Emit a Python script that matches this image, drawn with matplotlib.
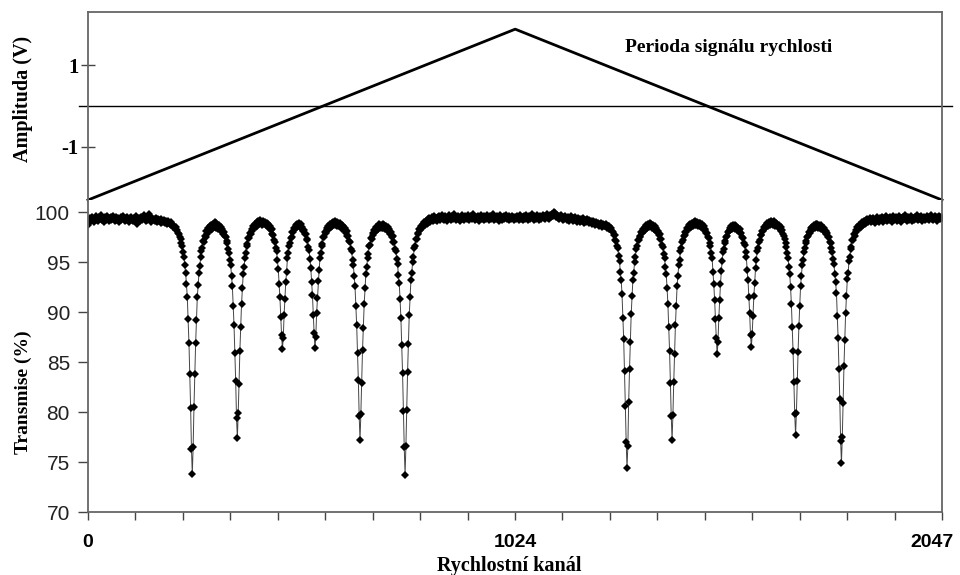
import numpy as np
import matplotlib.pyplot as plt
import matplotlib.transforms as mtrans

plt.rcParams['font.family'] = ['Liberation Sans', 'DejaVu Sans']
serif = ['Liberation Serif', 'DejaVu Serif']

# velocity signal (one period) - channel, amplitude in V
vel_ch = [0, 1024, 2047]
vel_amp = [-2.3, 1.88, -2.3]

# transmission (%) measured every 2nd channel, split in blocks of 256 channels
trans_0 = [98.7, 99.2, 99.4, 99.1, 99.3, 99.5, 99.2, 99.0, 99.4, 99.3,
           99.6, 99.2, 99.1, 99.5, 99.3, 99.4, 99.7, 99.2, 99.3, 99.0,
           99.5, 99.4, 99.2, 99.6, 99.3, 99.1, 99.4, 99.5, 99.2, 99.3,
           99.6, 99.4, 99.1, 99.3, 99.5, 99.2, 99.4, 99.0, 99.3, 99.5,
           99.2, 99.4, 99.6, 99.3, 99.1, 99.4, 99.2, 99.5, 99.3, 99.0,
           99.4, 99.2, 99.5, 99.3, 99.1, 99.4, 99.2, 99.6, 99.3, 98.8,
           99.2, 99.4, 99.1, 99.5, 99.3, 99.2, 99.4, 99.7, 99.3, 99.1,
           99.4, 99.2, 99.5, 99.8, 99.3,
           99.3, 99.0, 99.4, 99.2, 99.3, 99.1, 99.4, 99.2, 99.0, 99.3,
           99.1, 99.2, 98.9, 99.3, 99.1, 99.0, 99.2, 98.9, 99.1, 99.0,
           98.8, 99.1, 98.9, 98.8, 99.0, 98.7, 98.8, 98.5, 98.6, 98.4,
           98.5, 98.2, 98.2, 97.9, 97.8, 97.5, 97.3, 96.9, 96.6, 96.0,
           95.5, 94.7, 93.9, 92.8, 91.5, 89.3, 86.9, 83.8, 80.4, 76.3,
           73.8, 76.5, 80.5]
trans_1 = [83.8, 86.9, 89.2, 91.5, 92.7, 93.9, 94.6, 95.5, 96.1, 96.4,
           97.1, 97.0, 97.6, 97.5, 98.1, 97.8, 98.4, 98.1, 98.6, 98.2,
           98.7, 98.3, 98.8, 98.5, 99.0, 98.4, 98.9, 98.6, 98.3, 98.7,
           98.2, 98.5, 98.1, 98.3, 97.8, 98.0, 97.6, 97.5, 97.1, 96.9,
           96.3, 95.9, 95.2, 94.7, 93.6, 92.6, 90.6, 88.7, 85.9, 83.1,
           79.4, 77.4, 79.9, 82.8, 86.1, 88.5, 90.8, 92.4, 93.8, 94.5,
           95.4, 95.9, 96.6, 96.8, 97.4, 97.4, 97.9, 97.8, 98.3, 98.1,
           98.6, 98.4, 98.8, 98.5, 99.0, 98.6, 99.1, 98.8, 99.2, 98.9,
           99.0, 98.7, 99.1, 98.8, 99.0, 98.7, 98.9, 98.6, 98.8, 98.4,
           98.6, 98.2, 98.3, 97.8, 97.7, 97.2, 97.0, 96.4, 96.1, 95.2,
           94.3, 92.8, 91.5, 89.5, 87.7, 86.3, 87.4, 89.7, 91.3, 93.0,
           94.0, 95.4, 95.9, 96.6, 96.9, 97.4, 97.5, 98.0, 98.0, 98.4,
           98.3, 98.7, 98.5, 98.8, 98.6, 98.9, 98.5, 98.8]
trans_2 = [98.3, 98.5, 98.1, 98.2, 97.8, 97.8, 97.3, 97.2, 96.5, 96.2,
           95.3, 94.4, 93.0, 91.7, 89.7, 87.9, 86.4, 87.5, 89.9, 91.4,
           93.1, 94.2, 95.4, 95.9, 96.6, 96.8, 97.5, 97.5, 98.0, 97.9,
           98.4, 98.2, 98.6, 98.3, 98.8, 98.5, 98.9, 98.6, 99.0, 98.7,
           99.1, 98.7, 99.0, 98.6, 98.9, 98.6, 98.9, 98.5, 98.7, 98.3,
           98.6, 98.2, 98.4, 97.9, 98.1, 97.6, 97.6, 97.1, 97.0, 96.3,
           96.1, 95.2, 94.7, 93.6, 92.6, 90.6, 88.7, 85.9, 83.2, 79.6,
           77.2, 79.8, 82.9, 86.2, 88.4, 90.8, 92.4, 93.8, 94.5, 95.4,
           95.8, 96.6, 96.7, 97.4, 97.3, 97.9, 97.7, 98.2, 98.0, 98.5,
           98.2, 98.6, 98.3, 98.8, 98.4, 98.7, 98.4, 98.8, 98.4, 98.7,
           98.3, 98.6, 98.2, 98.5, 98.1, 98.3, 97.8, 98.0, 97.5, 97.6,
           97.0, 97.0, 96.3, 96.1, 95.3, 94.8, 93.7, 92.9, 91.3, 89.4,
           86.7, 83.9, 80.1, 76.5, 73.7, 76.6, 80.2, 84.0]
trans_3 = [86.8, 89.7, 91.5, 93.2, 93.9, 95.0, 95.5, 96.4, 96.6, 97.3,
           97.3, 97.9, 97.8, 98.3, 98.2, 98.6, 98.4, 98.8, 98.6, 99.0,
           98.7, 99.1, 98.8, 99.3, 98.9, 99.4, 99.0, 99.3, 99.5, 99.1,
           99.4, 99.6, 99.2, 99.4, 99.1, 99.5, 99.3, 99.6, 99.2, 99.4,
           99.7, 99.3, 99.5, 99.2, 99.6, 99.4, 99.1, 99.5, 99.3, 99.7,
           99.4, 99.2, 99.6, 99.3, 99.5, 99.8, 99.4, 99.2, 99.5, 99.3,
           99.6, 99.4, 99.1, 99.5, 99.7, 99.3, 99.5, 99.2, 99.6, 99.4,
           99.3, 99.7, 99.5, 99.2, 99.4, 99.6, 99.3, 99.5, 99.8, 99.4,
           99.2, 99.5, 99.3, 99.6, 99.4, 99.1, 99.5, 99.7, 99.3, 99.5,
           99.2, 99.6, 99.4, 99.3, 99.7, 99.5, 99.2, 99.4, 99.6, 99.3,
           99.5, 99.8, 99.4, 99.2, 99.5, 99.3, 99.6, 99.4, 99.1, 99.5,
           99.7, 99.4, 99.2, 99.5, 99.3, 99.6, 99.4, 99.7, 99.3, 99.5,
           99.2, 99.6, 99.4, 99.3, 99.6, 99.5, 99.2, 99.4]
trans_4 = [99.5, 99.3, 99.6, 99.4, 99.2, 99.5, 99.7, 99.3, 99.5, 99.2,
           99.6, 99.4, 99.3, 99.7, 99.5, 99.2, 99.4, 99.6, 99.3, 99.5,
           99.8, 99.4, 99.2, 99.6, 99.4, 99.3, 99.7, 99.5, 99.2, 99.4,
           99.6, 99.3, 99.5, 99.7, 99.4, 99.6, 99.3, 99.5, 99.8, 99.4,
           99.6, 99.3, 99.7, 99.5, 99.8, 99.6, 100.0, 99.7, 99.9, 99.5,
           99.7, 99.4, 99.6, 99.3, 99.5, 99.7, 99.4, 99.2, 99.5, 99.3,
           99.6, 99.4, 99.2, 99.5, 99.3, 99.1, 99.4, 99.6, 99.3, 99.1,
           99.4, 99.2, 99.5, 99.3, 99.0, 99.4, 99.2, 99.3, 99.0, 99.3,
           99.1, 99.4, 99.2, 98.9, 99.2, 99.0, 99.3, 99.1, 98.9, 99.2,
           99.0, 99.1, 98.8, 99.1, 98.9, 99.0, 98.7, 99.0,
           98.8, 98.9, 98.6, 98.8, 98.7, 98.9, 98.5, 98.8, 98.6, 98.7,
           98.6, 98.8, 98.4, 98.6, 98.3, 98.6, 98.3, 98.4, 98.1, 98.0,
           97.7, 97.7, 97.2, 97.1, 96.6, 96.4, 95.6, 95.1, 94.0, 93.2]
trans_5 = [91.8, 89.4, 87.3, 84.1, 80.6, 77.0, 74.4, 76.6, 81.0, 84.3,
           87.0, 89.8, 91.6, 93.2, 93.9, 95.0, 95.5, 96.3, 96.6, 97.2,
           97.2, 97.6, 97.5, 98.0, 97.9, 98.3, 98.1, 98.5, 98.2, 98.7,
           98.4, 98.8, 98.5, 98.9, 98.6, 98.8, 98.4, 98.7, 98.3, 98.6,
           98.2, 98.4, 98.0, 98.1, 97.7, 97.8, 97.3, 97.3, 96.7, 96.5,
           95.8, 95.4, 94.5, 93.8, 92.4, 90.8, 88.5, 86.1, 82.9, 79.6,
           77.2, 79.7, 83.0, 85.8, 88.7, 90.6, 92.6, 93.6, 94.7, 95.2,
           96.1, 96.4, 97.0, 97.2, 97.6, 97.7, 98.0, 98.0, 98.4, 98.3,
           98.7, 98.4, 98.8, 98.5, 98.9, 98.6, 99.0, 98.7, 99.1, 98.7,
           99.0, 98.6, 98.9, 98.6, 98.9, 98.5, 98.8, 98.3, 98.6, 98.2,
           98.3, 97.9, 97.9, 97.5, 97.4, 96.9, 96.6, 95.9, 95.4, 94.0,
           92.8, 91.2, 89.3, 87.4, 85.8, 87.0, 89.4, 91.2, 92.8, 94.1,
           95.1, 96.0, 96.3, 96.9, 97.1, 97.5, 97.6, 98.0]
trans_6 = [98.1, 98.4, 98.2, 98.6, 98.3, 98.7, 98.4, 98.7, 98.3, 98.6,
           98.2, 98.4, 98.2, 98.3, 97.9, 97.9, 97.5, 97.4, 96.9, 96.7,
           96.0, 95.5, 94.2, 93.2, 91.5, 89.9, 87.7, 86.5, 87.8, 89.6,
           91.6, 92.9, 94.4, 95.2, 96.1, 96.4, 97.0, 97.2, 97.7, 97.7,
           98.1, 98.1, 98.5, 98.4, 98.7, 98.5, 98.9, 98.6, 99.0, 98.7,
           99.1, 98.8, 99.0, 98.7, 99.1, 98.6, 98.9, 98.7, 98.8, 98.5,
           98.7, 98.3, 98.5, 98.1, 98.2, 97.8, 97.6, 97.3, 96.9, 96.5,
           95.9, 95.4, 94.5, 93.8, 92.5, 90.8, 88.5, 86.1, 83.0, 79.8,
           77.7, 79.9, 83.1, 86.0, 88.6, 90.6, 92.6, 93.6, 94.7, 95.2,
           96.0, 96.4, 96.9, 97.1, 97.5, 97.6, 98.0, 97.9, 98.4, 98.2,
           98.5, 98.3, 98.7, 98.4, 98.8, 98.5, 98.8, 98.4, 98.7, 98.4,
           98.7, 98.3, 98.5, 98.2, 98.4, 98.0, 98.1, 97.8, 97.9, 97.5,
           97.5, 97.0, 96.9, 96.4, 96.0, 95.3, 94.8, 93.8]
trans_7 = [93.0, 91.9, 89.6, 87.4, 84.3, 81.3, 77.1, 74.9, 77.5, 80.9,
           84.6, 87.2, 89.9, 91.6, 93.3, 93.9, 95.1, 95.5, 96.3, 96.5,
           97.2, 97.2, 97.8, 97.6, 98.2, 98.0, 98.5, 98.3, 98.7, 98.4,
           98.8, 98.5, 99.0, 98.7, 99.1, 98.8, 99.2, 98.9, 99.3, 99.0,
           99.2, 99.4, 99.0, 99.3, 99.1, 99.4, 99.2, 98.9, 99.3, 99.5,
           99.1, 99.3, 99.0, 99.4, 99.2, 99.5, 99.3, 99.0, 99.4, 99.2,
           99.6, 99.3, 99.1, 99.4, 99.2, 99.5, 99.3, 99.0, 99.4, 99.6,
           99.2, 99.3, 99.5, 99.1, 99.4, 99.2, 99.6, 99.3, 99.0, 99.4,
           99.2, 99.5, 99.3, 99.7, 99.4, 99.1, 99.3, 99.5, 99.2, 99.4,
           99.6, 99.3, 99.1, 99.4, 99.2, 99.5, 99.3, 99.7, 99.4, 99.2,
           99.5, 99.3, 99.6, 99.4, 99.1, 99.3, 99.5, 99.2, 99.4, 99.6,
           99.3, 99.5, 99.2, 99.4, 99.7, 99.3, 99.5, 99.2, 99.4, 99.6,
           99.3, 99.5, 99.1, 99.4, 99.6, 99.3, 99.5, 99.4]

trans = np.concatenate([trans_0, trans_1, trans_2, trans_3,
                        trans_4, trans_5, trans_6, trans_7])
chan = np.arange(len(trans)) * 2

xticks = [i * 2047 / 18 for i in range(19)]
xlabels = ['' for _ in xticks]
xlabels[0], xlabels[9], xlabels[18] = '0', '1024', '2047'

fig = plt.figure(figsize=(9.6, 5.75), dpi=100)
ax1 = fig.add_axes([88/960, 1 - 200/575, 854/960, 188/575])
ax2 = fig.add_axes([88/960, 1 - 512/575, 854/960, 312/575])

# top: velocity signal
ax1.plot(vel_ch, vel_amp, color='black', lw=2, clip_on=False)
ax1.axhline(0, xmin=-0.01, xmax=1.012, color='black', lw=1, clip_on=False)
ax1.set_xlim(0, 2047)
ax1.set_ylim(-2.3, 2.3)
ax1.set_xticks([])
ax1.set_yticks([-1, 1])
ax1.set_yticklabels(['-1', '1'], family=serif, weight='bold', fontsize=15)
ax1.tick_params(axis='y', direction='inout', length=10, width=1,
                color='#444', pad=2)
ax1.spines['bottom'].set_visible(False)
ax1.text(0.75, 0.81, 'Perioda signálu rychlosti', transform=ax1.transAxes,
         ha='center', va='center', family=serif, weight='bold', fontsize=14)

# bottom: transmission spectrum
ax2.plot(chan, trans, color='#444', lw=0.7, marker='D', ms=4,
         mfc='black', mec='black', mew=0)
ax2.set_xlim(0, 2047)
ax2.set_ylim(70, 101.23)
ax2.set_yticks(range(70, 101, 5))
ax2.set_yticklabels([str(v) for v in range(70, 101, 5)], fontsize=15,
                    color='#222')
ax2.set_xticks(xticks)
ax2.set_xticklabels(xlabels, fontsize=14, weight='bold')
ax2.tick_params(axis='x', direction='out', length=6, width=1, color='#444',
                pad=10)
ax2.tick_params(axis='y', direction='out', length=7, width=1, color='#444',
                pad=6)
ax2.spines['top'].set_visible(False)

# last channel label sits a bit left of its tick so it stays inside the image
last = ax2.get_xticklabels()[-1]
last.set_transform(last.get_transform() +
                   mtrans.ScaledTranslation(-10/100, 0, fig.dpi_scale_trans))

for ax in (ax1, ax2):
    for sp in ax.spines.values():
        sp.set_color('#666')
        sp.set_linewidth(1.3)

fig.text(0.024, 0.828, 'Amplituda (V)', rotation=90, ha='center', va='center',
         family=serif, weight='bold', fontsize=14.5)
fig.text(0.024, 0.318, 'Transmise (%)', rotation=90, ha='center', va='center',
         family=serif, weight='bold', fontsize=14)
fig.text(0.53, 0.016, 'Rychlostní kanál', ha='center', va='center',
         family=serif, weight='bold', fontsize=14.5)

fig.savefig('out.png', dpi=100, facecolor='white')
